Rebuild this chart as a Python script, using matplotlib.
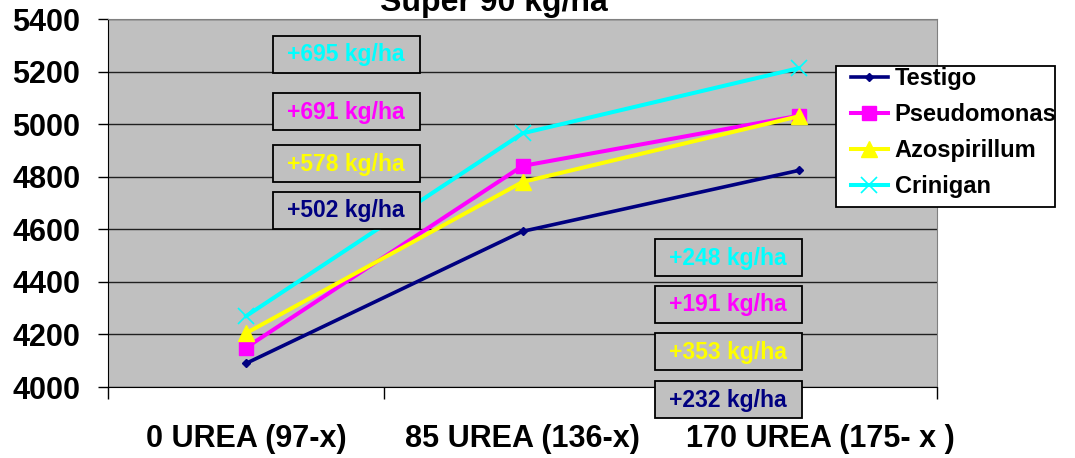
import matplotlib
matplotlib.use("Agg")
import matplotlib.pyplot as plt
from matplotlib.patches import Rectangle
from matplotlib.transforms import ScaledTranslation
import numpy as np

# data
categories = ["0 UREA (97-x)", "85 UREA (136-x)", "170 UREA (175- x )"]
testigo = [4090, 4592, 4824]
pseudomonas = [4150, 4841, 5032]
azospirillum = [4205, 4780, 5030]
crinigan = [4270, 4965, 5213]

gain_first = ["+695 kg/ha", "+691 kg/ha", "+578 kg/ha", "+502 kg/ha"]
gain_second = ["+248 kg/ha", "+191 kg/ha", "+353 kg/ha", "+232 kg/ha"]

NAVY = "#000080"
MAGENTA = "#FF00FF"
YELLOW = "#FFFF00"
CYAN = "#00FFFF"
GRAY = "#C0C0C0"

plt.rcParams["font.family"] = ["Liberation Sans", "DejaVu Sans"]
plt.rcParams["font.weight"] = "bold"

fig = plt.figure(figsize=(10.75, 4.58), dpi=100)
W, H = 1075, 458
ax = fig.add_axes([108 / W, 1 - 387 / H, (937 - 108) / W, (387 - 19) / H])
ax.set_facecolor(GRAY)

x = np.arange(len(categories))
ax.plot(x, testigo, color=NAVY, lw=2.6, marker="D", ms=4, label="Testigo")
ax.plot(x, pseudomonas, color=MAGENTA, lw=2.9, marker="s", ms=10, label="Pseudomonas")
ax.plot(x, azospirillum, color=YELLOW, lw=2.9, marker="^", ms=11, label="Azospirillum")
ax.plot(x, crinigan, color=CYAN, lw=2.9, marker="x", ms=11, mew=1.2, label="Crinigan")

ax.set_xlim(-0.5, len(categories) - 0.5)
ax.set_ylim(4000, 5400)
ax.set_yticks(np.arange(4000, 5401, 200))
ax.yaxis.grid(True, color="#202020", lw=1)
ax.set_axisbelow(True)

# category labels centred, ticks on the boundaries
ax.set_xticks(np.arange(-0.5, len(categories), 1.0))
ax.set_xticklabels([])
ax.set_xticks(x, minor=True)
ax.set_xticklabels(categories, minor=True, fontsize=22, fontweight="bold")
ax.tick_params(axis="x", which="minor", length=0, pad=27)
ax.tick_params(axis="x", which="major", length=8.5, width=1, direction="out")
ax.tick_params(axis="y", length=7, width=1, direction="out", labelsize=22, pad=13)
for lab in ax.get_yticklabels():
    lab.set_fontweight("bold")
# the last label sits a little right of its category in the original
last = ax.xaxis.get_minor_ticks()[-1].label1
last.set_transform(last.get_transform() + ScaledTranslation(0.22, 0, fig.dpi_scale_trans))

for side in ["top", "right"]:
    ax.spines[side].set_color("#808080")
for side in ["left", "bottom"]:
    ax.spines[side].set_color("black")

fig.text(494 / W, 1 - 11 / H, "Super 90 kg/ha", ha="center", va="baseline",
         fontsize=23, fontweight="bold")

# gain boxes: (left px, top px) of each box, 147 x 37 px
colors = [CYAN, MAGENTA, YELLOW, NAVY]
left_tops = [36, 93, 145, 192]
right_tops = [239, 286, 333, 381]
for labels, x0, tops in [(gain_first, 273, left_tops), (gain_second, 655, right_tops)]:
    for txt, col, top in zip(labels, colors, tops):
        fig.patches.append(Rectangle((x0 / W, 1 - (top + 37) / H), 147 / W, 37 / H,
                                     transform=fig.transFigure, fc=GRAY, ec="black",
                                     lw=1.3, zorder=5))
        fig.text((x0 + 73) / W, 1 - (top + 19) / H, txt, ha="center", va="center",
                 color=col, fontsize=16.5, fontweight="bold", zorder=6)

# legend with a fixed frame, text may run past it as in the original
fig.patches.append(Rectangle((836 / W, 1 - 207 / H), 219 / W, 141 / H,
                             transform=fig.transFigure, fc="white", ec="black",
                             lw=1.3, zorder=5))
leg = fig.legend(loc="upper left", bbox_to_anchor=(851 / W, 1 - 67 / H),
                 bbox_transform=fig.transFigure, borderaxespad=0, frameon=False,
                 prop={"size": 17, "weight": "bold"}, labelspacing=0.55,
                 handlelength=1.55, handletextpad=0.3, borderpad=0)
leg.set_zorder(7)

fig.savefig("out.png", dpi=100)
